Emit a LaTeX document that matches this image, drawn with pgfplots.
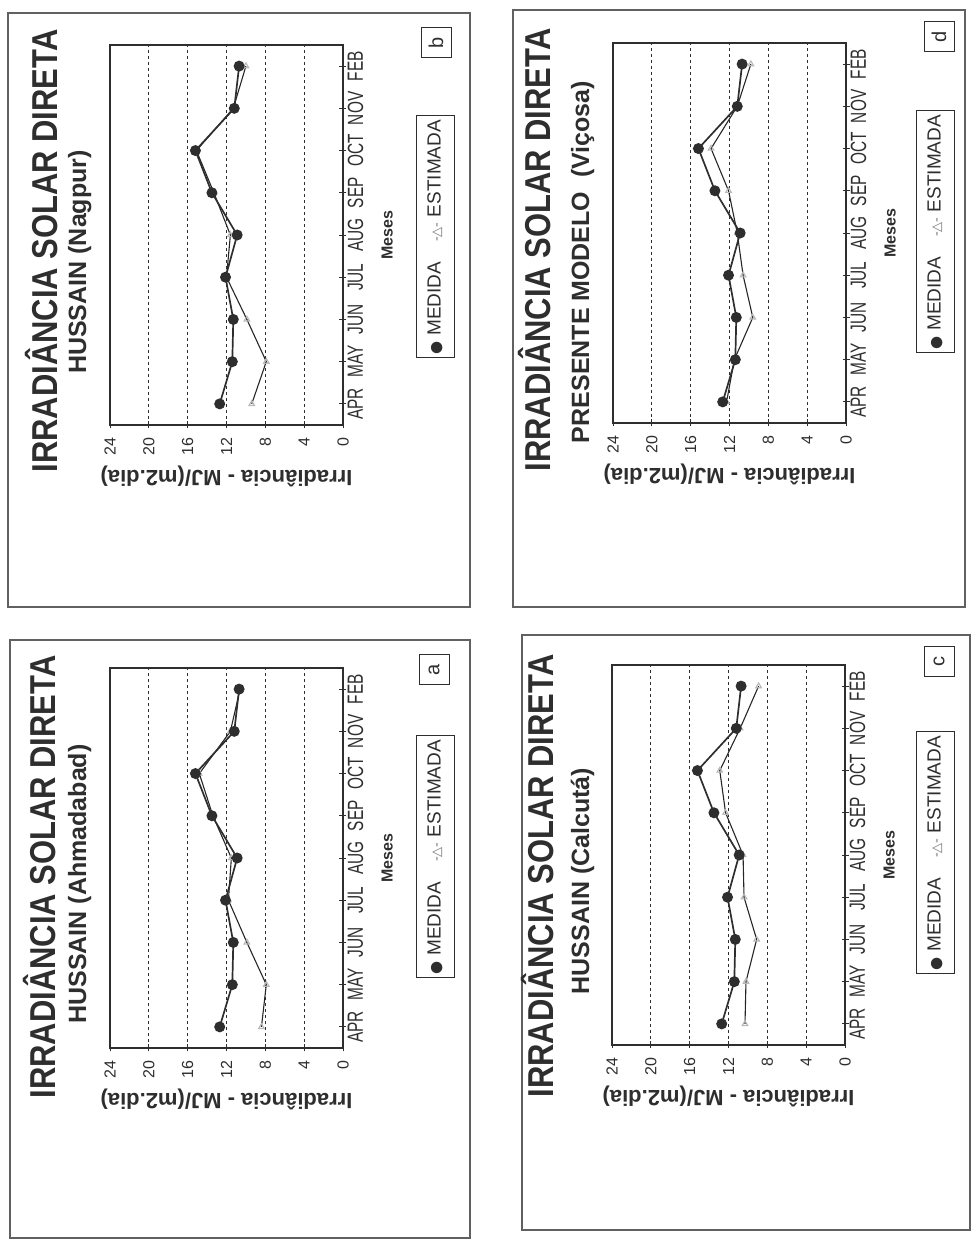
\documentclass[border=0pt]{standalone}
\usepackage{fontspec}
\usepackage{pgfplots}
\usepackage{pgfplotstable}
\pgfplotsset{compat=1.18}
\setmainfont{Liberation Sans}
\newfontfamily\titlefont{Liberation Sans}[FakeStretch=0.86]
\newfontfamily\monthfont{Liberation Sans}[FakeStretch=0.7]
\newfontfamily\symfont{DejaVu Sans}

\definecolor{ink}{gray}{0.18}
\definecolor{framegray}{gray}{0.38}

% Irradiancia solar direta (MJ/(m2.dia)): medida e estimada por local
\pgfplotstableread{
idx medida nagpur vicosa ahmadabad calcuta
0   12.7   9.4    12.3   8.4       10.3
1   11.4   7.9    11.5   7.9       10.2
2   11.3   9.9    9.6    9.9       9.1
3   12.1   12.0   10.6   11.8      10.4
4   10.9   11.6   11.2   11.5      10.5
5   13.5   13.3   12.1   13.4      12.3
6   15.2   15.1   13.9   14.8      12.9
7   11.2   11.3   11.2   11.6      10.8
8   10.7   10.0   9.8    10.6      8.9
}\irrad

\pgfplotsset{
  painel/.style={
    scale only axis, width=233pt, height=380pt,
    xmin=0, xmax=24, x dir=reverse, xtick={0,4,...,24},
    ymin=-0.5, ymax=8.5, ytick={0,...,8},
    yticklabels={APR,MAY,JUN,JUL,AUG,SEP,OCT,NOV,FEB},
    yticklabel pos=right, ytick pos=right, xtick pos=left,
    tick align=center, major tick length=7pt,
    tick style={ink, line width=0.8pt},
    axis line style={ink, line width=1.3pt},
    xmajorgrids,
    grid style={ink, dash pattern=on 3pt off 3pt, line width=0.9pt},
    /pgf/number format/assume math mode=true,
    xticklabel style={font=\fontsize{16}{16}\selectfont, text=ink, rotate=90, anchor=east},
    xticklabel shift=6pt,
    yticklabel style={font=\monthfont\fontsize{22}{22}\selectfont, text=ink, rotate=90, anchor=north, inner sep=1pt},
    xlabel={Irradiância - MJ/(m2.dia)},
    xlabel style={font=\bfseries\fontsize{22}{22}\selectfont, text=ink,
      at={(axis description cs:0.5,-0.135)}, anchor=center, rotate=180},
    ylabel={Meses},
    ylabel style={font=\bfseries\fontsize{16}{16}\selectfont, text=ink,
      at={(axis description cs:1.19,0.5)}, anchor=center},
  },
  medida/.style={ink, line width=1.7pt, mark=*, mark size=4.6pt,
    mark options={fill=ink, draw=ink, solid}},
  estimada/.style={black!85, line width=1.1pt, mark=triangle, mark size=3.2pt,
    mark options={draw=black!28, fill=white, solid}},
}

\tikzset{
  titulo/.style={rotate=90, anchor=base, text=ink, inner sep=0pt,
    font=\titlefont\bfseries\fontsize{36}{36}\selectfont},
  subtitulo/.style={rotate=90, anchor=base, text=ink, inner sep=0pt,
    font=\bfseries\fontsize{25}{25}\selectfont},
  legenda/.style={draw=ink, line width=1pt, rotate=90, minimum width=242pt,
    minimum height=38pt, text=ink, font=\fontsize{19}{19}\selectfont},
  letra/.style={draw=ink, line width=1pt, rotate=90, minimum width=30pt,
    minimum height=30pt, text=ink, font=\fontsize{20}{20}\selectfont},
}

\newcommand{\legtexto}{{\symfont\fontsize{15}{15}\selectfont ●}~MEDIDA\hspace{20pt}{\symfont\fontsize{13}{13}\selectfont\color{black!55}-△-}~ESTIMADA}

\begin{document}
\begin{tikzpicture}[x=1pt, y=1pt]
\useasboundingbox (0,0) rectangle (973,1256);

% ---------- b: Hussain (Nagpur) ----------
\draw[framegray, line width=1.3pt] (8,649) rectangle (470,1243);
\node[titulo] at (57.5,1005) {IRRADIÂNCIA SOLAR DIRETA};
\node[subtitulo] at (86,994) {HUSSAIN (Nagpur)};
\begin{axis}[painel, at={(110pt,831pt)}, anchor=south west]
  \addplot[estimada] table[x=nagpur, y=idx] {\irrad};
  \addplot[medida] table[x=medida, y=idx] {\irrad};
\end{axis}
\node[legenda] at (435,1019) {\legtexto};
\node[letra] at (436,1213) {b};

% ---------- d: Presente modelo (Vicosa) ----------
\draw[framegray, line width=1.3pt] (513,649) rectangle (965,1246);
\node[titulo] at (550.5,1006) {IRRADIÂNCIA SOLAR DIRETA};
\node[subtitulo] at (589,994) {PRESENTE MODELO\ \ (Viçosa)};
\begin{axis}[painel, at={(613pt,833pt)}, anchor=south west]
  \addplot[estimada] table[x=vicosa, y=idx] {\irrad};
  \addplot[medida] table[x=medida, y=idx] {\irrad};
\end{axis}
\node[legenda] at (935,1024) {\legtexto};
\node[letra] at (939,1219) {d};

% ---------- a: Hussain (Ahmadabad) ----------
\draw[framegray, line width=1.3pt] (10,18) rectangle (470,616);
\node[titulo] at (55.5,379) {IRRADIÂNCIA SOLAR DIRETA};
\node[subtitulo] at (86,372) {HUSSAIN (Ahmadabad)};
\begin{axis}[painel, at={(110pt,208pt)}, anchor=south west]
  \addplot[estimada] table[x=ahmadabad, y=idx] {\irrad};
  \addplot[medida] table[x=medida, y=idx] {\irrad};
\end{axis}
\node[legenda] at (435,399) {\legtexto};
\node[letra] at (434,586) {a};

% ---------- c: Hussain (Calcuta) ----------
\draw[framegray, line width=1.3pt] (522,26) rectangle (970,621);
\node[titulo] at (553.5,380) {IRRADIÂNCIA SOLAR DIRETA};
\node[subtitulo] at (589,375) {HUSSAIN (Calcutá)};
\begin{axis}[painel, at={(612pt,211pt)}, anchor=south west]
  \addplot[estimada] table[x=calcuta, y=idx] {\irrad};
  \addplot[medida] table[x=medida, y=idx] {\irrad};
\end{axis}
\node[legenda] at (935,403) {\legtexto};
\node[letra] at (939,594) {c};
\end{tikzpicture}
\end{document}
